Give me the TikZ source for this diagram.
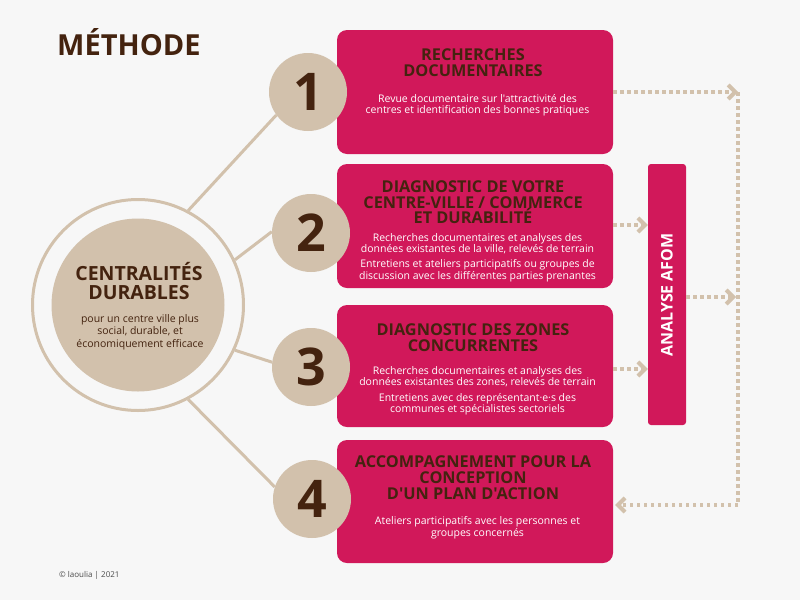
\documentclass[tikz,border=0pt]{standalone}
\usepackage{fontspec}
\setmainfont{Open Sans}[Ligatures=TeXOff]
\usetikzlibrary{arrows.meta}
\definecolor{bgc}{HTML}{F7F7F7}
\definecolor{beige}{HTML}{D2C1AC}
\definecolor{pinkbox}{HTML}{D1185A}
\definecolor{brownt}{HTML}{44230F}
\definecolor{greyt}{HTML}{4A4A4A}
\tikzset{
  stepbox/.style={fill=pinkbox, rounded corners=10pt, minimum width=276pt, inner sep=0pt},
  numcirc/.style={circle, fill=beige, minimum size=78pt, inner sep=0pt, text=brownt, font=\bfseries\fontsize{52}{52}\selectfont},
  conn/.style={draw=beige, line width=3pt},
  dotline/.style={draw=beige, line width=4pt, dash pattern=on 3.5pt off 3.5pt},
  tip/.style={-{Straight Barb[length=7pt,width=14pt]}},
  head/.style={anchor=base, text=brownt, font=\bfseries\fontsize{16.3}{16.3}\selectfont, inner sep=0pt},
  body/.style={anchor=base, text=white, font=\fontsize{10.5}{12}\selectfont, inner sep=0pt},
  core/.style={anchor=base, text=brownt, inner sep=0pt}
}
\begin{document}
\begin{tikzpicture}[x=1pt,y=-1pt]
\fill[bgc] (0,0) rectangle (800,600);
\useasboundingbox (0,0) rectangle (800,600);

% title
\node[anchor=base west, text=brownt, font=\bfseries\fontsize{29}{29}\selectfont, inner sep=0pt] (title) at (57,55) {MÉTHODE};

% central circle
\node[circle, draw=beige, line width=3pt, minimum size=211pt, inner sep=0pt] (ring) at (138,305) {};
\node[circle, fill=beige, minimum size=173pt, inner sep=0pt] (coreC) at (138,305) {};
\node[core, font=\bfseries\fontsize{19.5}{19.5}\selectfont] (ct1) at (139,280) {CENTRALITÉS};
\node[core, font=\bfseries\fontsize{19.5}{19.5}\selectfont] (ct2) at (139,299) {DURABLES};
\node[core, font=\fontsize{10.5}{12}\selectfont] (cs1) at (140,322) {pour un centre ville plus};
\node[core, font=\fontsize{10.5}{12}\selectfont] (cs2) at (140,334.5) {social, durable, et};
\node[core, font=\fontsize{10.5}{12}\selectfont] (cs3) at (140,347) {économiquement efficace};

% boxes
\node[stepbox, minimum height=124pt] (b1) at (475,92) {};
\node[stepbox, minimum height=124pt] (b2) at (475,226) {};
\node[stepbox, minimum height=122pt] (b3) at (475,366) {};
\node[stepbox, minimum height=123pt] (b4) at (475,501.5) {};
\node[fill=pinkbox, rounded corners=3pt, minimum width=38pt, minimum height=261pt, inner sep=0pt] (afom) at (667,294.5) {};
\node[rotate=90, text=white, font=\bfseries\fontsize{16}{16}\selectfont, inner sep=0pt] (afomt) at (667,295) {ANALYSE AFOM};

% box texts
\node[head] (h11) at (473,60) {RECHERCHES};
\node[head] (h12) at (473,76) {DOCUMENTAIRES};
\node[body] (t11) at (477.5,102) {Revue documentaire sur l'attractivité des};
\node[body] (t12) at (477.5,113.5) {centres et identification des bonnes pratiques};

\node[head] (h21) at (473,192) {DIAGNOSTIC DE VOTRE};
\node[head] (h22) at (473,208) {CENTRE-VILLE / COMMERCE};
\node[head] (h23) at (473,223.5) {ET DURABILITÉ};
\node[body] (t21) at (477.5,241) {Recherches documentaires et analyses des};
\node[body] (t22) at (477.5,252.5) {données existantes de la ville, relevés de terrain};
\node[body] (t23) at (477.5,267.5) {Entretiens et ateliers participatifs ou groupes de};
\node[body] (t24) at (477.5,279) {discussion avec les différentes parties prenantes};

\node[head] (h31) at (473,335.5) {DIAGNOSTIC DES ZONES};
\node[head] (h32) at (473,351.5) {CONCURRENTES};
\node[body] (t31) at (477.5,374) {Recherches documentaires et analyses des};
\node[body] (t32) at (477.5,385.5) {données existantes des zones, relevés de terrain};
\node[body] (t33) at (477.5,401) {Entretiens avec des représentant·e·s des};
\node[body] (t34) at (477.5,412.5) {communes et spécialistes sectoriels};

\node[head] (h41) at (473,467) {ACCOMPAGNEMENT POUR LA};
\node[head] (h42) at (473,483) {CONCEPTION};
\node[head] (h43) at (473,499) {D'UN PLAN D'ACTION};
\node[body] (t41) at (477.5,524.5) {Ateliers participatifs avec les personnes et};
\node[body] (t42) at (477.5,536) {groupes concernés};

% number circles
\node[numcirc] (n1) at (308,92) {1};
\node[numcirc] (n2) at (311,233) {2};
\node[numcirc] (n3) at (311,367) {3};
\node[numcirc] (n4) at (312,499) {4};

% connectors
\draw[conn] (ring.62) -- (n1.216);
\draw[conn] (ring.25) -- (n2.178);
\draw[conn] (ring.-25) -- (n3.173);
\draw[conn] (ring.-62) -- (n4.162);

% dotted arrows
\coordinate (c1) at (738,92);
\coordinate (c4) at (738,505);
\draw[dotline, tip] (b1.east) -- (c1);
\draw[dotline] (c1) -- (c4);
\draw[dotline, tip] (c4) -- ([xshift=2pt]c4 -| b4.east);
\draw[dotline, tip] ([yshift=1pt]b2.east) -- ([yshift=1pt]b2.east -| afom.west);
\draw[dotline, tip] ([yshift=-3pt]b3.east) -- ([yshift=-3pt]b3.east -| afom.west);
\draw[dotline, tip] ([yshift=-2.5pt]afom.east) -- ([yshift=-2.5pt,xshift=-2pt]afom.east -| c1);

% footer
\node[anchor=base west, text=greyt, font=\fontsize{8}{8}\selectfont, inner sep=0pt] (foot) at (59,577) {© laoulia | 2021};
\end{tikzpicture}
\end{document}
